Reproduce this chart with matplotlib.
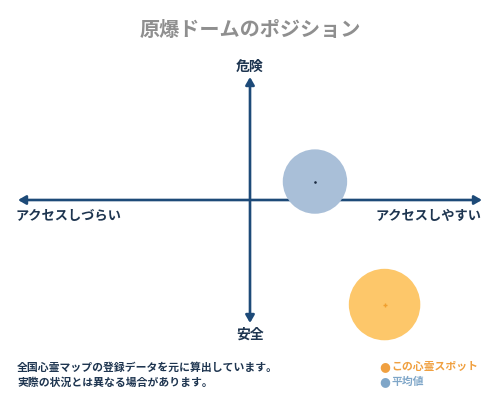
import matplotlib
matplotlib.use("Agg")
import matplotlib.pyplot as plt
from matplotlib.patches import FancyArrowPatch

plt.rcParams['font.family'] = ['Noto Sans CJK JP', 'DejaVu Sans']

title = "原爆ドームのポジション"
axis_top = "危険"
axis_bottom = "安全"
axis_left = "アクセスしづらい"
axis_right = "アクセスしやすい"
note_lines = ["全国心霊マップの登録データを元に算出しています。",
              "実際の状況とは異なる場合があります。"]
series_names = ["この心霊スポット", "平均値"]
series_x = [0.58, 0.28]     # access (-1 hard .. 1 easy)
series_y = [-0.85, 0.15]    # danger (-1 safe .. 1 dangerous)
series_colors = ["#fdc76a", "#a9bfd8"]
center_colors = ["#f0a030", "#1a2a40"]
center_markers = ["+", "."]
legend_colors = ["#f0a040", "#7fa6c8"]
sizes = [2650, 2150]

navy = "#1d4a78"
text_navy = "#1e3550"

fig = plt.figure(figsize=(5, 4), dpi=100)
fig.patch.set_facecolor("white")
ax = fig.add_axes([18/500, (400-323)/400, 464/500, 246/400])
ax.set_xlim(-1, 1)
ax.set_ylim(-1, 1)
ax.axis("off")

# axes arrows
for (x0, y0, x1, y1) in [(0, 0, 1, 0), (0, 0, -1, 0), (0, 0, 0, 1), (0, 0, 0, -1)]:
    ax.add_patch(FancyArrowPatch((x0, y0), (x1, y1), arrowstyle="-|>,head_length=4.5,head_width=2.6",
                                 mutation_scale=1, color=navy, lw=1.9, shrinkA=0, shrinkB=0,
                                 clip_on=False, zorder=2))

# bubbles
for i in range(len(series_names)):
    ax.scatter([series_x[i]], [series_y[i]], s=sizes[i], color=series_colors[i],
               edgecolors="none", zorder=3, clip_on=False)
    ax.scatter([series_x[i]], [series_y[i]], s=12 if i == 0 else 3, marker=center_markers[i],
               color=center_colors[i], linewidths=1, zorder=4)

# axis labels
fig.text(250/500, 1-67/400, axis_top, ha="center", va="center", fontsize=10,
         fontweight="bold", color=text_navy)
fig.text(250/500, 1-335/400, axis_bottom, ha="center", va="center", fontsize=10,
         fontweight="bold", color=text_navy)
fig.text(16/500, 1-216/400, axis_left, ha="left", va="center", fontsize=9.5,
         fontweight="bold", color=text_navy)
fig.text(482/500, 1-216/400, axis_right, ha="right", va="center", fontsize=9.5,
         fontweight="bold", color=text_navy)

# title
fig.text(250/500, 1-29/400, title, ha="center", va="center", fontsize=14.5,
         fontweight="bold", color="#8f8f8f")

# notes
fig.text(17/500, 1-368/400, note_lines[0], ha="left", va="center", fontsize=7.8,
         fontweight="bold", color=text_navy)
fig.text(17/500, 1-383/400, note_lines[1], ha="left", va="center", fontsize=7.8,
         fontweight="bold", color=text_navy)

# legend
legend_y = [367, 382]
for i in range(len(series_names)):
    fig.text(379/500, 1-legend_y[i]/400, "●", ha="left", va="center", fontsize=9,
             color=legend_colors[i], family="DejaVu Sans")
    fig.text(391/500, 1-legend_y[i]/400, series_names[i], ha="left", va="center",
             fontsize=7.8, fontweight="bold", color=legend_colors[i])

fig.savefig("out.png", dpi=100, facecolor="white")
